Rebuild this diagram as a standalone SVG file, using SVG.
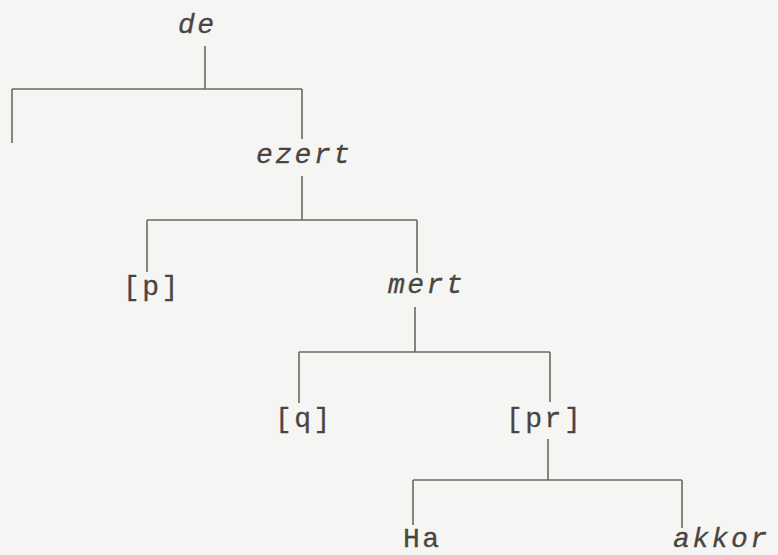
<svg xmlns="http://www.w3.org/2000/svg" width="778" height="555" viewBox="0 0 778 555">
<style>
.t{font-family:"Liberation Mono","DejaVu Sans Mono",monospace;font-size:28px;fill:#4a4542;stroke:#4a4542;stroke-width:0.3;letter-spacing:2.5px}
.i{font-style:italic}
.c{stroke:#6e6864;stroke-width:1.6;fill:none}
</style>
<rect width="778" height="555" fill="#f5f5f3"/>
<g id="connectors" class="c">
<path d="M205 46V89M12 89H302M12 89V143M302 89V139"/>
<path d="M302 176V220M147 220H417M147 220V272M417 220V273"/>
<path d="M415 307V352M299 352H550M299 352V403M550 352V402"/>
<path d="M548 439V480M413 480H682M413 480V525M682 480V528"/>
</g>
<g id="n-de"><text class="t i" x="178" y="33">de</text></g>
<g id="n-ezert"><text class="t i" x="256" y="163">ezert</text></g>
<g id="n-p"><text class="t" x="123" y="295">[p]</text></g>
<g id="n-mert"><text class="t i" x="388" y="293">mert</text></g>
<g id="n-q"><text class="t" x="275" y="427">[q]</text></g>
<g id="n-pr"><text class="t" x="506" y="427">[pr]</text></g>
<g id="n-ha"><text class="t" x="403" y="547">Ha</text></g>
<g id="n-akkor"><text class="t i" x="673" y="547">akkor</text></g>
</svg>
